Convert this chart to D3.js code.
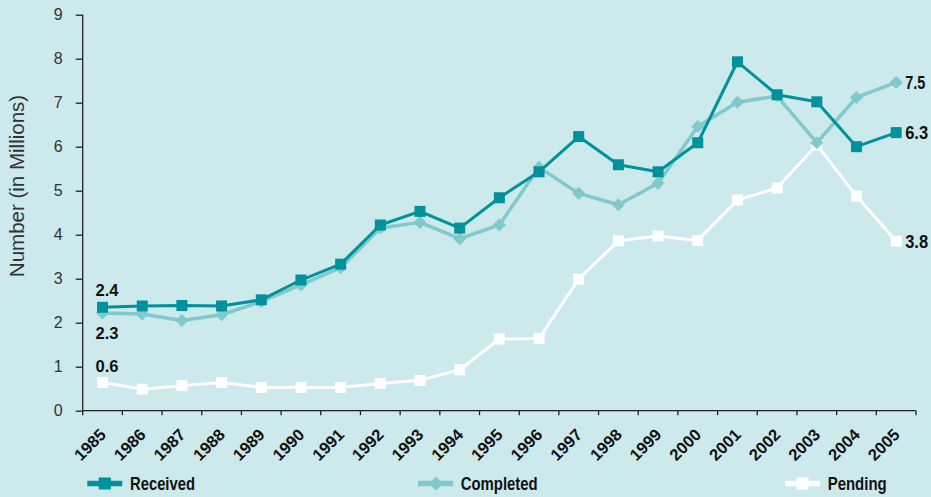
<!DOCTYPE html>
<html>
<head>
<meta charset="utf-8">
<script src="https://cdn.jsdelivr.net/npm/d3@7/dist/d3.min.js"></script>
<style>
  html, body { margin: 0; padding: 0; background: #cce9eb; }
  svg { display: block; }
  .lab { font-family: "Liberation Sans", "DejaVu Sans", sans-serif; }
</style>
</head>
<body>
<svg id="chart" width="931" height="497"></svg>
<script>
const years = ["1985","1986","1987","1988","1989","1990","1991","1992","1993","1994","1995","1996","1997","1998","1999","2000","2001","2002","2003","2004","2005"];
const received  = [2.35,2.38,2.39,2.38,2.52,2.97,3.33,4.22,4.53,4.15,4.84,5.43,6.23,5.59,5.43,6.09,7.93,7.18,7.02,6.00,6.32];
const completed = [2.22,2.20,2.05,2.18,2.48,2.86,3.25,4.15,4.28,3.91,4.22,5.53,4.94,4.68,5.17,6.46,7.01,7.15,6.09,7.12,7.46];
const pending   = [0.64,0.49,0.57,0.64,0.53,0.53,0.53,0.62,0.69,0.93,1.63,1.64,2.99,3.86,3.97,3.87,4.79,5.06,6.04,4.88,3.85];
const yTicks = [0,1,2,3,4,5,6,7,8,9];
const seriesNames = ["Received","Completed","Pending"];
const startLabels = ["2.4","2.3","0.6"];
const endLabels = ["6.3","7.5","3.8"];
const yTitle = "Number (in Millions)";

const colors = { Received: "#00929c", Completed: "#80c9cd", Pending: "#ffffff" };
const svg = d3.select("#chart");
const x = d3.scaleBand().domain(years).range([82.7, 916]).paddingInner(0).paddingOuter(0);
const y = d3.scaleLinear().domain([0, 9]).range([410.7, 14.7]);
const cx = d => x(d) + x.bandwidth() / 2;

// Y axis
const yAxis = svg.append("g").attr("transform", "translate(82.7,0)")
  .call(d3.axisLeft(y).tickValues(yTicks).tickSize(7).tickPadding(13).tickFormat(d3.format("d")));
yAxis.select(".domain").attr("stroke", "#222").attr("stroke-width", 1.3).attr("d", `M0,${y(9)}V${y(0)}`);
yAxis.selectAll(".tick line").attr("stroke", "#222").attr("stroke-width", 1.3);
yAxis.selectAll(".tick text").attr("fill", "#333").style("font-family", "'Liberation Sans', sans-serif").style("font-size", "16px");

// X axis line & ticks at band boundaries
const xg = svg.append("g").attr("transform", `translate(0,${y(0)})`);
xg.append("line").attr("x1", x.range()[0]).attr("x2", x.range()[1]).attr("y1", 0).attr("y2", 0).attr("stroke", "#222").attr("stroke-width", 1.3);
const bounds = years.map(d => x(d)).concat([x.range()[1]]);
xg.selectAll("line.tk").data(bounds).join("line").attr("class", "tk")
  .attr("x1", d => d).attr("x2", d => d).attr("y1", 0).attr("y2", 4.5)
  .attr("stroke", "#222").attr("stroke-width", 1.3);
xg.selectAll("text.yr").data(years).join("text").attr("class", "yr lab")
  .attr("transform", d => `translate(${cx(d) + 4.5},${25}) rotate(-45)`)
  .attr("text-anchor", "end")
  .attr("fill", "#111").style("font-size", "16.5px").style("font-weight", "bold")
  .text(d => d);

// Y title
svg.append("text").attr("transform", `translate(24,186) rotate(-90)`)
  .attr("text-anchor", "middle").attr("fill", "#333")
  .style("font-family", "'Liberation Sans', sans-serif").style("font-size", "20.5px")
  .text(yTitle);

const data = { Received: received, Completed: completed, Pending: pending };
const line = d3.line().x((d, i) => cx(years[i])).y(d => y(d));

function drawSeries(name, lw, marker) {
  const vals = data[name];
  svg.append("path").datum(vals).attr("d", line).attr("fill", "none")
    .attr("stroke", colors[name]).attr("stroke-width", lw).attr("stroke-linejoin", "round");
  if (marker === "diamond") {
    svg.append("g").selectAll("path").data(vals).join("path")
      .attr("d", d3.symbol().type(d3.symbolSquare).size(85))
      .attr("transform", (d, i) => `translate(${cx(years[i])},${y(d)}) rotate(45)`)
      .attr("fill", colors[name]);
  } else {
    svg.append("g").selectAll("rect").data(vals).join("rect")
      .attr("x", (d, i) => cx(years[i]) - 5.5).attr("y", d => y(d) - 5.5)
      .attr("width", 11).attr("height", 11).attr("fill", colors[name]);
  }
}
drawSeries("Pending", 3, "square");
drawSeries("Completed", 3.5, "diamond");
drawSeries("Received", 3, "square");

// Start labels
const startDy = [-11, 26, -11];
seriesNames.forEach((s, k) => {
  const v = data[s][0];
  svg.append("text").attr("class", "lab")
    .attr("x", cx(years[0]) - 7).attr("y", y(v) + startDy[k])
    .attr("textLength", 23).attr("lengthAdjust", "spacingAndGlyphs")
    .attr("fill", "#111").style("font-size", "16px").style("font-weight", "bold")
    .text(startLabels[k]);
});
// End labels
const endW = [23, 20, 23];
seriesNames.forEach((s, k) => {
  const v = data[s][years.length - 1];
  svg.append("text").attr("class", "lab")
    .attr("x", cx(years[years.length - 1]) + 9).attr("y", y(v)).attr("dy", "0.36em")
    .attr("textLength", endW[k]).attr("lengthAdjust", "spacingAndGlyphs")
    .attr("fill", "#111").style("font-size", "17.5px").style("font-weight", "bold")
    .text(endLabels[k]);
});

// Legend
const legendX = [87.3, 418, 785];
const legendW = [65, 77, 59];
seriesNames.forEach((s, k) => {
  const g = svg.append("g").attr("transform", `translate(${legendX[k]},483.5)`);
  g.append("line").attr("x1", 0).attr("x2", 35).attr("y1", 0).attr("y2", 0)
    .attr("stroke", colors[s]).attr("stroke-width", 5.5);
  if (s === "Completed") {
    g.append("path").attr("d", d3.symbol().type(d3.symbolSquare).size(100))
      .attr("transform", "translate(18,0) rotate(45)").attr("fill", colors[s]);
  } else {
    g.append("rect").attr("x", 11.5).attr("y", -6).attr("width", 12).attr("height", 12).attr("fill", colors[s]);
  }
  g.append("text").attr("class", "lab").attr("x", 42.7).attr("y", 0).attr("dy", "0.37em")
    .attr("textLength", legendW[k]).attr("lengthAdjust", "spacingAndGlyphs")
    .attr("fill", "#111").style("font-size", "18px").style("font-weight", "bold")
    .text(s);
});
</script>
</body>
</html>
